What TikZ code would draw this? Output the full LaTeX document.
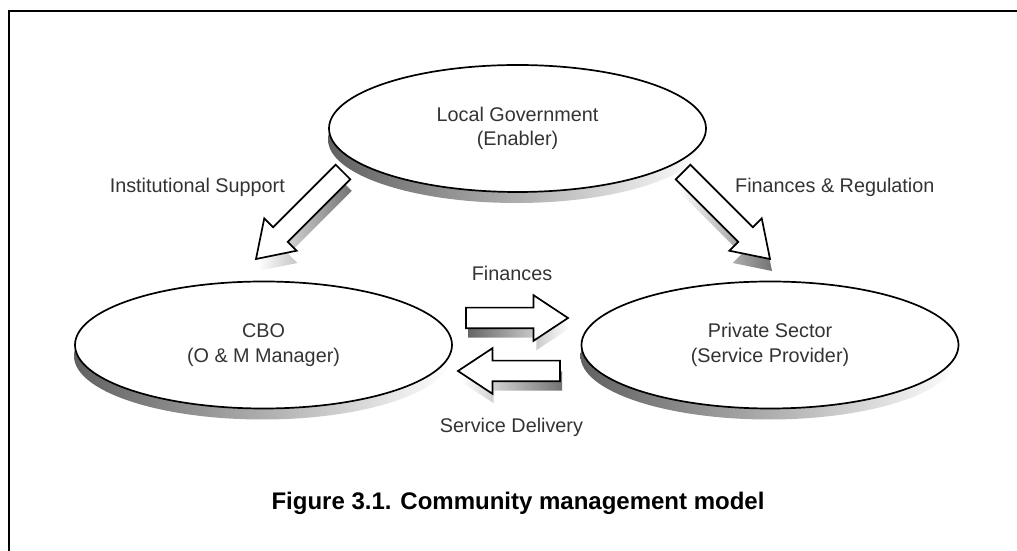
\documentclass[tikz,border=0pt]{standalone}
\usepackage{fontspec}
\setmainfont{Liberation Sans}
\usetikzlibrary{shapes.geometric,shapes.arrows}
\begin{document}
\begin{tikzpicture}[x=1pt,y=1pt,
  lbl/.style={font=\fontsize{19.8}{24.5}\selectfont, text=black!80},
  ellbase/.style={ellipse, minimum width=377, minimum height=127, inner sep=0, outer sep=0},
  ell/.style={ellbase, draw=black, line width=1.7, fill=white, align=center, lbl},
  ellshadow/.style={ellbase, left color=black!62, right color=white, middle color=black!32},
  arrbase/.style={single arrow, minimum height=#1, inner xsep=0, inner ysep=9.5,
    single arrow head extend=12.5, single arrow tip angle=67,
    single arrow head indent=0, outer sep=0, anchor=tip},
  barrow/.style={arrbase=#1, draw=black, line width=1.7, fill=white, line join=miter},
  ashadowA/.style={arrbase=#1, left color=white, right color=black!55},
  ashadowB/.style={arrbase=#1, left color=black!60, right color=white},
  caption/.style={font=\fontsize{24}{28}\selectfont\bfseries, text=black}
]
\useasboundingbox (0,0) rectangle (1017,551);
% frame
\draw[line width=2.2] (1017,540) -- (9,540) -- (9,0);

% ellipse shadows
\node[ellshadow] (slg) at (516.5,411.5) {};
\node[ellshadow] (scbo) at (262.5,195) {};
\node[ellshadow] (sps) at (769,195) {};

% ellipses
\node[ell] (lg) at (517.5,422.5) {Local Government\\(Enabler)};
\node[ell] (cbo) at (263.5,206) {CBO\\(O \& M Manager)};
\node[ell] (ps) at (770,206) {Private Sector\\(Service Provider)};

% arrow shadows
\node[ashadowA=123, rotate=225] (sa1) at (258,280) {};
\node[ashadowA=123, rotate=315] (sa2) at (772,280) {};
\node[ashadowB=102, rotate=0] (sa3) at (570,223) {};
\node[ashadowA=102, rotate=180] (sa4) at (460,170) {};

% block arrows
\node[barrow=123, rotate=225] (a1) at (256,292) {};
\node[barrow=123, rotate=315] (a2) at (770,292) {};
\node[barrow=102, rotate=0] (a3) at (568,233) {};
\node[barrow=102, rotate=180] (a4) at (458,180) {};

% labels
\node[lbl, anchor=east, inner sep=0] (l1) at (285,364) {Institutional Support};
\node[lbl, anchor=west, inner sep=0] (l2) at (735,364) {Finances \& Regulation};
\node[lbl, inner sep=0] (l3) at (512,278) {Finances};
\node[lbl, inner sep=0] (l4) at (511.5,124) {Service Delivery};

% caption
\node[caption, inner sep=0] (cap) at (518,48) {Figure 3.1. Community management model};
\end{tikzpicture}
\end{document}
